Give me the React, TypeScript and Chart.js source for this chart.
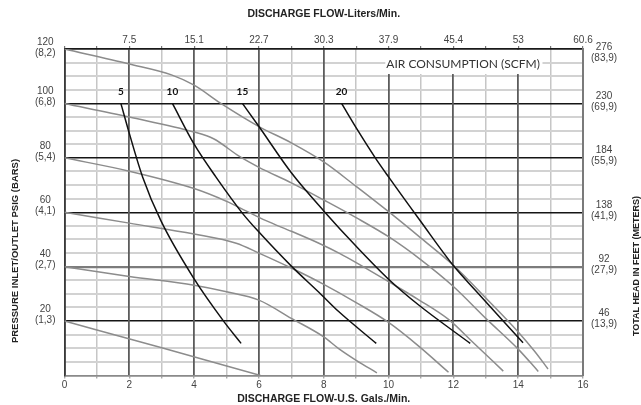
import React, { useEffect, useRef } from 'react';
import { Chart, registerables } from 'chart.js';

Chart.register(...registerables);

// ---- axis labels ----
const litersLabels = ['7.5', '15.1', '22.7', '30.3', '37.9', '45.4', '53', '60.6'];
const psiLabels = ['20', '40', '60', '80', '100', '120'];
const barLabels = ['(1,3)', '(2,7)', '(4,1)', '(5,4)', '(6,8)', '(8,2)'];
const feetLabels = ['46', '92', '138', '184', '230', '276'];
const meterLabels = ['(13,9)', '(27,9)', '(41,9)', '(55,9)', '(69,9)', '(83,9)'];

const titleBottom = 'DISCHARGE FLOW-U.S. Gals./Min.';
const titleTop = 'DISCHARGE FLOW-Liters/Min.';
const titleLeft = 'PRESSURE INLET/OUTLET PSIG (BARS)';
const titleRight = 'TOTAL HEAD IN FEET (METERS)';
const airTitle = 'AIR CONSUMPTION (SCFM)';

// ---- performance curves (inlet pressure, psig) : flow (gpm) / head (psig) ----
const p120Flow = [0, 2, 3.3, 4, 4.8, 6, 7, 8, 9, 10, 11, 12, 13, 14, 14.5, 14.92];
const p120Head = [120, 114.5, 110.5, 106.7, 100.2, 91.5, 85.5, 78.5, 69.5, 60.2, 50.5, 40.5, 28.5, 16, 9, 2.4];

const p100Flow = [0, 2, 4, 4.6, 5.4, 6, 7, 8, 9, 10, 11, 12, 13, 14, 14.62];
const p100Head = [100, 95, 89.5, 87, 80.5, 76.5, 70.8, 64.5, 58, 51, 42.5, 32.7, 21, 9.7, 1.5];

const p80Flow = [0, 2, 4, 5, 5.6, 6.2, 7, 7.85, 8.5, 9, 10, 10.92, 11.85, 12.56, 13.54];
const p80Head = [80, 75.1, 68.7, 64, 60.5, 57, 53, 48.6, 44.8, 41.5, 34.5, 27.9, 20.6, 12.7, 1.6];

const p60Flow = [0, 2, 4, 5.3, 6, 7, 8, 9, 10, 10.92, 11.85];
const p60Head = [60, 56, 52, 48.6, 45, 39.5, 33.5, 26.8, 19.5, 10.9, 1.2];

const p40Flow = [0, 2, 4, 5, 6, 7, 8, 8.46, 9, 9.64];
const p40Head = [40, 36.4, 33.2, 30.8, 27.7, 21, 14.2, 9.9, 5.6, 1];

const p20Flow = [0, 3, 6.05];
const p20Head = [20, 10.2, 0];

// ---- air consumption lines (SCFM) ----
const airLabels = ['5', '10', '15', '20'];

const air5Flow = [1.74, 2, 2.41, 2.97, 4, 4.92, 5.45];
const air5Head = [100, 89, 73, 57, 35.5, 19.8, 11.8];

const air10Flow = [3.33, 4, 4.67, 5.5, 6, 7, 7.85, 8.46, 9.62];
const air10Head = [100, 85, 73, 59.5, 52.7, 40.2, 30.6, 23.5, 11.8];

const air15Flow = [5.49, 6, 7, 8, 9, 10, 10.92, 12.52];
const air15Head = [100, 91.5, 74.5, 60.5, 47.5, 35.4, 26, 11.8];

const air20Flow = [8.55, 9.07, 9.59, 10, 11, 12, 12.67, 14.15];
const air20Head = [100, 89.7, 80, 73, 56.5, 40.4, 31.4, 12];

const FONT = "'Liberation Sans', Arial, Helvetica, sans-serif";
const CAL = "Lato, 'Open Sans', sans-serif";

const pts = (xs: number[], ys: number[]) => xs.map((x, i) => ({ x, y: ys[i] }));

const airSeries = [
  { flow: air5Flow, head: air5Head },
  { flow: air10Flow, head: air10Head },
  { flow: air15Flow, head: air15Head },
  { flow: air20Flow, head: air20Head },
];
const pressureSeries = [
  { flow: p120Flow, head: p120Head },
  { flow: p100Flow, head: p100Head },
  { flow: p80Flow, head: p80Head },
  { flow: p60Flow, head: p60Head },
  { flow: p40Flow, head: p40Head },
  { flow: p20Flow, head: p20Head },
];

const annotationPlugin = {
  id: 'annotations',
  beforeDatasetsDraw(chart: any) {
    const { ctx } = chart;
    const xs = chart.scales.x;
    const ys = chart.scales.y;
    const x0 = xs.getPixelForValue(9.9);
    const x1 = xs.getPixelForValue(14.75);
    const y0 = ys.getPixelForValue(120) + 1;
    const y1 = ys.getPixelForValue(110.8);
    ctx.save();
    ctx.fillStyle = '#ffffff';
    ctx.fillRect(x0, y0, x1 - x0, y1 - y0);
    ctx.fillStyle = '#333333';
    ctx.font = `12px ${CAL}`;
    ctx.textAlign = 'center';
    ctx.textBaseline = 'middle';
    ctx.fillText(airTitle, xs.getPixelForValue(12.3), ys.getPixelForValue(114.3));
    ctx.restore();
  },
  afterDatasetsDraw(chart: any) {
    const { ctx } = chart;
    const xs = chart.scales.x;
    const ys = chart.scales.y;
    ctx.save();
    ctx.fillStyle = '#111111';
    ctx.font = `bold 10px ${CAL}`;
    ctx.textAlign = 'center';
    ctx.textBaseline = 'middle';
    airSeries.forEach((s, i) => {
      ctx.fillText(airLabels[i], xs.getPixelForValue(s.flow[0]), ys.getPixelForValue(104.2));
    });
    ctx.fillStyle = '#222222';
    ctx.font = `bold 9.5px ${FONT}`;
    ctx.save();
    ctx.translate(15, 251);
    ctx.rotate(-Math.PI / 2);
    ctx.fillText(titleLeft, 0, 0);
    ctx.restore();
    ctx.font = `bold 9px ${FONT}`;
    ctx.save();
    ctx.translate(637, 266);
    ctx.rotate(-Math.PI / 2);
    ctx.fillText(titleRight, 0, 0);
    ctx.restore();
    ctx.restore();
  },
};

export default function App() {
  const ref = useRef<HTMLCanvasElement | null>(null);

  useEffect(() => {
    if (!ref.current) return;
    const datasets: any[] = [];
    airSeries.forEach((s, i) => {
      datasets.push({
        label: `${airLabels[i]} SCFM`,
        data: pts(s.flow, s.head),
        borderColor: '#111111',
        borderWidth: 1.5,
        pointRadius: 0,
        cubicInterpolationMode: 'monotone',
        fill: false,
      });
    });
    pressureSeries.forEach((s, i) => {
      datasets.push({
        label: `P${psiLabels[5 - i]}`,
        data: pts(s.flow, s.head),
        borderColor: '#8c8c8c',
        borderWidth: 1.5,
        pointRadius: 0,
        cubicInterpolationMode: 'monotone',
        fill: false,
      });
    });

    const tickFont = { family: FONT, size: 10, lineHeight: 1.1 };
    const yLabel = (v: any) => {
      const n = Number(v);
      if (n > 0 && n % 20 === 0) {
        const k = n / 20 - 1;
        return n === 120 ? ['', psiLabels[k], barLabels[k]] : [psiLabels[k], barLabels[k]];
      }
      return '';
    };
    const y2Label = (v: any) => {
      const n = Number(v);
      if (n > 0 && n % 20 === 0) {
        const k = n / 20 - 1;
        return n === 120 ? ['', feetLabels[k], meterLabels[k]] : [feetLabels[k], meterLabels[k]];
      }
      return '';
    };
    const xVal = (c: any) => (c.tick ? c.tick.value : 1);
    const majorColor = (c: any) => {
      const v = xVal(c);
      if (v === 0) return '#444444';
      if (v === 16) return '#7a7a7a';
      return v % 2 === 0 ? '#5c5c5c' : 'rgba(0,0,0,0)';
    };

    const chart = new Chart(ref.current, {
      type: 'line',
      data: { datasets },
      plugins: [annotationPlugin],
      options: {
        animation: false,
        responsive: false,
        devicePixelRatio: 1,
        layout: { padding: 0 },
        plugins: { legend: { display: false }, tooltip: { enabled: false } },
        scales: {
          x: {
            type: 'linear',
            position: 'bottom',
            min: 0,
            max: 16,
            ticks: {
              stepSize: 1,
              autoSkip: false,
              maxRotation: 0,
              padding: 1,
              color: '#444444',
              font: { family: FONT, size: 10 },
              callback: (v: any) => (Number(v) % 2 === 0 ? String(v) : ''),
            },
            grid: {
              z: -4,
              tickLength: 3,
              tickColor: '#9a9a9a',
              tickWidth: 1.2,
              color: (c: any) => (xVal(c) % 2 === 0 ? 'rgba(0,0,0,0)' : '#c6c6c6'),
              lineWidth: 1.5,
            },
            border: { color: '#8a8a8a', width: 1.5 },
            title: {
              display: true,
              text: titleBottom,
              color: '#222222',
              font: { family: FONT, size: 10.5, weight: 'bold' },
              padding: { top: 0, bottom: 0 },
            },
            afterFit: (s: any) => {
              s.height = 29.5;
            },
          },
          xg: {
            type: 'linear',
            position: 'bottom',
            weight: -1,
            min: 0,
            max: 16,
            ticks: { display: false, stepSize: 1, autoSkip: false, maxRotation: 0 },
            grid: { z: -2, drawTicks: false, color: majorColor, lineWidth: 1.8 },
            border: { display: false },
            afterFit: (s: any) => {
              s.height = 0;
            },
          },
          x2: {
            type: 'linear',
            position: 'top',
            min: 0,
            max: 16,
            ticks: {
              stepSize: 1,
              autoSkip: false,
              maxRotation: 0,
              padding: 0,
              color: '#444444',
              font: { family: FONT, size: 10 },
              callback: (v: any) => {
                const n = Number(v);
                return n > 0 && n % 2 === 0 ? litersLabels[n / 2 - 1] : '';
              },
            },
            grid: { drawOnChartArea: false, tickLength: 3, color: '#777777', lineWidth: 1.2 },
            border: { color: '#1a1a1a', width: 1.5 },
            title: {
              display: true,
              text: titleTop,
              color: '#222222',
              font: { family: FONT, size: 10.5, weight: 'bold' },
              padding: { top: 7.7, bottom: 0 },
            },
            afterFit: (s: any) => {
              s.height = 49;
            },
          },
          y: {
            type: 'linear',
            position: 'left',
            min: 0,
            max: 120,
            ticks: {
              stepSize: 5,
              maxTicksLimit: 1000,
              autoSkip: false,
              padding: 9,
              crossAlign: 'center',
              labelOffset: -6.5,
              color: '#444444',
              font: tickFont,
              callback: yLabel,
            },
            grid: {
              z: -3,
              drawTicks: false,
              color: (c: any) => {
                const v = c.tick ? c.tick.value : 1;
                if (v === 0) return '#8a8a8a';
                if (v === 40) return '#7c7c7c';
                if (v % 20 === 0) return '#151515';
                return '#d2d2d2';
              },
              lineWidth: (c: any) => {
                const v = c.tick ? c.tick.value : 1;
                if (v === 40) return 2.2;
                if (v % 20 === 0) return 1.4;
                return 2;
              },
            },
            border: { color: '#3a3a3a', width: 1.5 },
            afterFit: (s: any) => {
              s.width = 64.5;
            },
          },
          y2: {
            type: 'linear',
            position: 'right',
            min: 0,
            max: 120,
            ticks: {
              stepSize: 5,
              maxTicksLimit: 1000,
              autoSkip: false,
              padding: 8,
              crossAlign: 'center',
              labelOffset: -2,
              color: '#444444',
              font: tickFont,
              callback: y2Label,
            },
            grid: { drawOnChartArea: false, drawTicks: false },
            border: { color: '#7a7a7a', width: 2 },
            afterFit: (s: any) => {
              s.width = 58;
            },
          },
        },
      } as any,
    });
    return () => chart.destroy();
  }, []);

  return (
    <div style={{ position: 'fixed', left: 0, top: 0, width: 641, height: 405, background: '#ffffff' }}>
      <canvas ref={ref} width={641} height={405} style={{ display: 'block', width: 641, height: 405 }} />
    </div>
  );
}
